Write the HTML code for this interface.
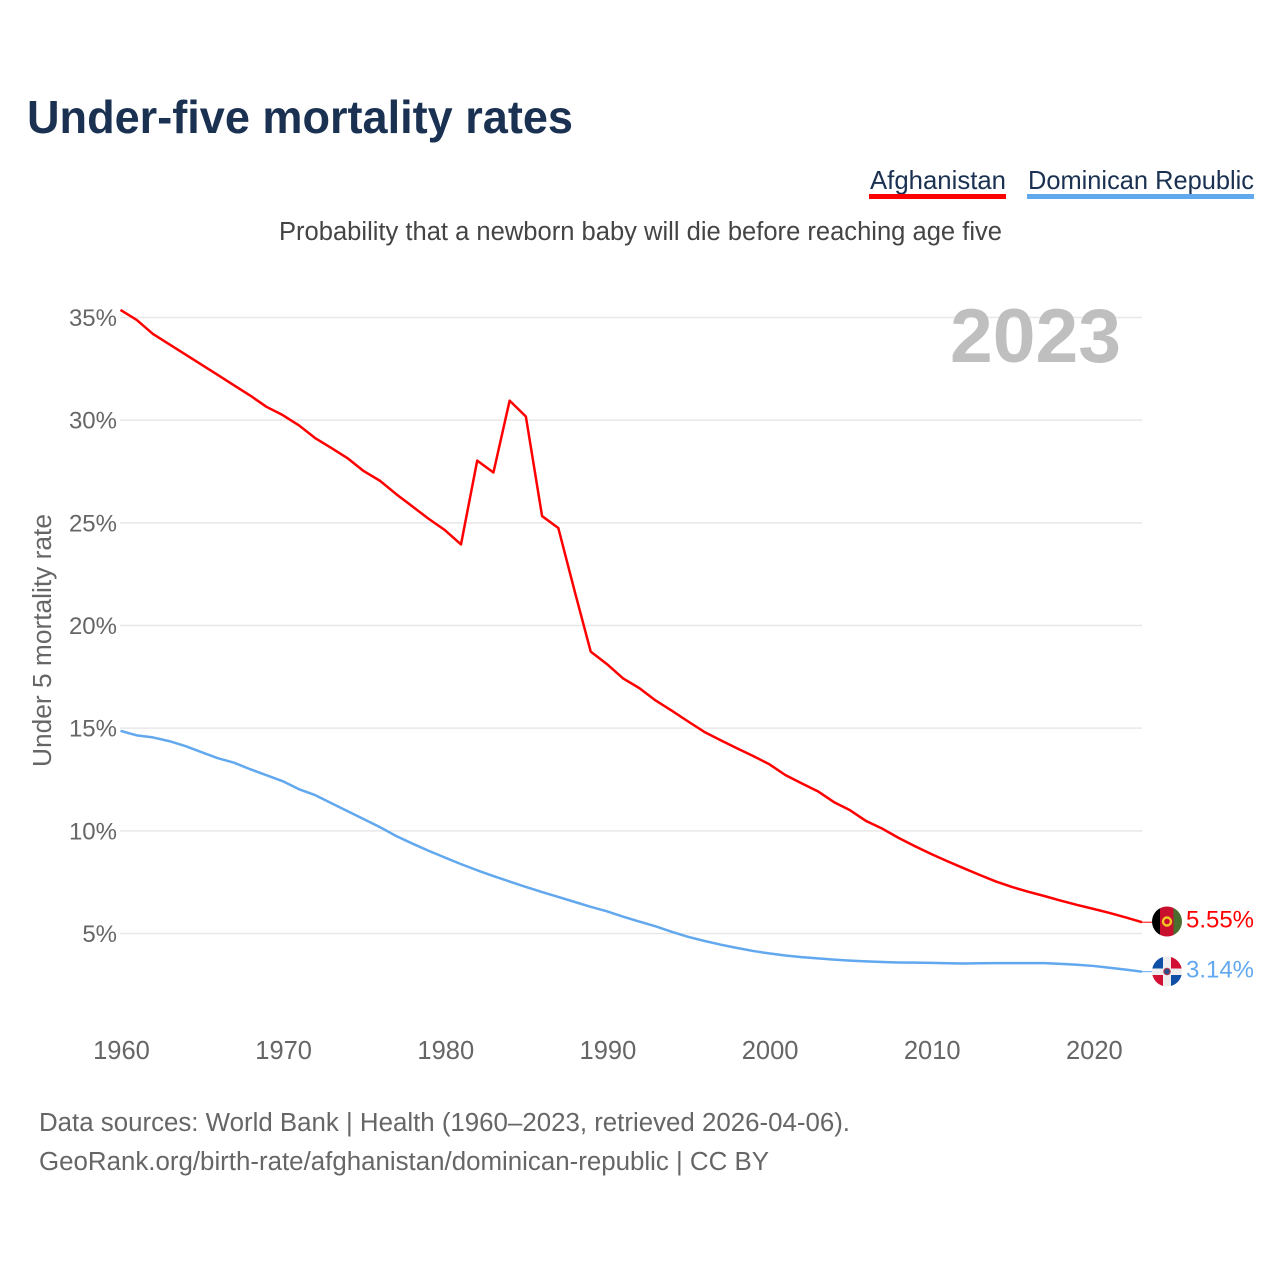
<!DOCTYPE html>
<html lang="en">
<head>
<meta charset="utf-8">
<title>Under-five mortality rates</title>
<style>
  html, body { margin: 0; padding: 0; background: #fff; width: 1280px; height: 1280px; overflow: hidden; }
  svg { display: block; font-family: "Liberation Sans", sans-serif; }
</style>
</head>
<body>
<svg id="chart" xmlns="http://www.w3.org/2000/svg" width="1280" height="1280" viewBox="0 0 1280 1280">
  <rect x="0" y="0" width="1280" height="1280" fill="#ffffff"/>
  <text x="27" y="133" font-size="46" font-weight="700" fill="#1a3152" textLength="546" lengthAdjust="spacingAndGlyphs">Under-five mortality rates</text>
  <g>
    <g>
      <text x="870" y="189" font-size="26" fill="#1a3152" textLength="136" lengthAdjust="spacingAndGlyphs">Afghanistan</text>
      <rect x="869" y="194" width="137" height="5" fill="#ff0000"/>
    </g>
    <g>
      <text x="1028" y="189" font-size="26" fill="#1a3152" textLength="226" lengthAdjust="spacingAndGlyphs">Dominican Republic</text>
      <rect x="1027" y="194" width="227" height="5" fill="#62a8ee"/>
    </g>
  </g>
  <text x="279" y="240" font-size="25.5" fill="#444444" textLength="723" lengthAdjust="spacingAndGlyphs">Probability that a newborn baby will die before reaching age five</text>
  <g id="grid"></g>
  <text x="950" y="362" font-size="76" font-weight="700" fill="#bfbfbf" textLength="171" lengthAdjust="spacingAndGlyphs">2023</text>
  <g id="yticks"></g>
  <g id="xticks"></g>
  <text transform="translate(51,767) rotate(-90)" font-size="25.5" fill="#666666" textLength="253" lengthAdjust="spacingAndGlyphs">Under 5 mortality rate</text>
  <g id="series"></g>
  <defs>
    <clipPath id="clip-af"><circle cx="1167" cy="921.5" r="15"/></clipPath>
    <clipPath id="clip-do"><circle cx="1167" cy="971.5" r="15"/></clipPath>
  </defs>
  <g clip-path="url(#clip-af)">
    <rect x="1152" y="906" width="8" height="31" fill="#000000"/>
    <rect x="1160" y="906" width="13.5" height="31" fill="#c8102e"/>
    <rect x="1173.5" y="906" width="9" height="31" fill="#4a6e2e"/>
    <circle cx="1167" cy="921.5" r="4" fill="none" stroke="#f3c623" stroke-width="2.4"/>
  </g>
  <g clip-path="url(#clip-do)">
    <rect x="1152" y="956" width="30" height="31" fill="#eeeeee"/>
    <rect x="1152" y="956" width="11" height="12.5" fill="#0f4fa8"/>
    <rect x="1171" y="956" width="11" height="12.5" fill="#d21034"/>
    <rect x="1152" y="975" width="11" height="12" fill="#d21034"/>
    <rect x="1171" y="975" width="11" height="12" fill="#0f4fa8"/>
    <circle cx="1167" cy="971.5" r="3.2" fill="#28508f" stroke="#b23a48" stroke-width="1.2"/>
  </g>
  <g id="endlabels"></g>
  <text x="39" y="1131" font-size="25.5" fill="#666666" textLength="811" lengthAdjust="spacingAndGlyphs">Data sources: World Bank | Health (1960–2023, retrieved 2026-04-06).</text>
  <text x="39" y="1170" font-size="25.5" fill="#666666" textLength="730" lengthAdjust="spacingAndGlyphs">GeoRank.org/birth-rate/afghanistan/dominican-republic | CC BY</text>
</svg>
<script>
const years = [1960,1961,1962,1963,1964,1965,1966,1967,1968,1969,1970,1971,1972,1973,1974,1975,1976,1977,1978,1979,1980,1981,1982,1983,1984,1985,1986,1987,1988,1989,1990,1991,1992,1993,1994,1995,1996,1997,1998,1999,2000,2001,2002,2003,2004,2005,2006,2007,2008,2009,2010,2011,2012,2013,2014,2015,2016,2017,2018,2019,2020,2021,2022,2023];
const afghanistan = [35.37,34.88,34.2,33.7,33.2,32.7,32.2,31.7,31.2,30.65,30.25,29.75,29.13,28.65,28.15,27.52,27.05,26.4,25.8,25.2,24.65,23.95,28.03,27.45,30.95,30.18,25.33,24.75,21.7,18.73,18.12,17.42,16.95,16.35,15.85,15.33,14.82,14.42,14.03,13.65,13.25,12.72,12.32,11.93,11.4,11.0,10.47,10.1,9.65,9.25,8.87,8.52,8.18,7.85,7.53,7.26,7.03,6.82,6.6,6.39,6.2,6.0,5.78,5.55];
const dominicanRepublic = [14.87,14.65,14.55,14.37,14.13,13.83,13.54,13.32,13.0,12.71,12.42,12.03,11.74,11.35,10.96,10.57,10.18,9.75,9.38,9.03,8.7,8.38,8.08,7.8,7.53,7.27,7.02,6.78,6.54,6.3,6.08,5.82,5.58,5.35,5.08,4.84,4.64,4.46,4.3,4.15,4.03,3.93,3.85,3.79,3.73,3.68,3.64,3.61,3.59,3.58,3.57,3.55,3.54,3.55,3.56,3.56,3.56,3.56,3.52,3.48,3.42,3.33,3.24,3.14];
const yTickValues = [35,30,25,20,15,10,5];
const xTickValues = [1960,1970,1980,1990,2000,2010,2020];

const NS = 'http://www.w3.org/2000/svg';
function xScale(year) { return 120.5 + (year - 1960) * (1142 - 120.5) / 63; }
function yScale(pct) { return 317.5 + (35 - pct) * (933.5 - 317.5) / 30; }
function make(tag, attrs, text) {
  const el = document.createElementNS(NS, tag);
  for (const k in attrs) el.setAttribute(k, attrs[k]);
  if (text !== undefined) el.textContent = text;
  return el;
}

const grid = document.getElementById('grid');
const yticks = document.getElementById('yticks');
yTickValues.forEach(function (v) {
  const line = make('line', { x1: 120, x2: 1142, y1: yScale(v), y2: yScale(v), stroke: '#e8e8e8', 'stroke-width': 1.5 });
  
  
  grid.appendChild(line);
  const label = make('text', { x: 117, y: yScale(v) + 8.5, 'text-anchor': 'end', 'font-size': 24, fill: '#666666' }, v + '%');
  
  
  yticks.appendChild(label);
});

const xticks = document.getElementById('xticks');
xTickValues.forEach(function (y) {
  const label = make('text', { x: xScale(y) + 1, y: 1059, 'text-anchor': 'middle', 'font-size': 25.5, fill: '#666666' }, String(y));
  
  
  xticks.appendChild(label);
});

function pathFor(values) {
  return values.map(function (v, i) {
    return (i ? 'L' : 'M') + xScale(years[i]).toFixed(2) + ' ' + yScale(v).toFixed(2);
  }).join(' ');
}
const series = document.getElementById('series');
const endlabels = document.getElementById('endlabels');

const afLine = make('path', { d: pathFor(afghanistan), fill: 'none', stroke: '#ff0000', 'stroke-width': 2.5, 'stroke-linejoin': 'round' });


series.appendChild(afLine);

const doLine = make('path', { d: pathFor(dominicanRepublic), fill: 'none', stroke: '#62a8ee', 'stroke-width': 2.5, 'stroke-linejoin': 'round' });


series.appendChild(doLine);

const afEnd = afghanistan[afghanistan.length - 1];
const doEnd = dominicanRepublic[dominicanRepublic.length - 1];

const afLead = make('line', { x1: 1142, x2: 1153, y1: yScale(afEnd), y2: yScale(afEnd), stroke: '#ff0000', 'stroke-width': 1 });


series.appendChild(afLead);

const doLead = make('line', { x1: 1142, x2: 1153, y1: yScale(doEnd), y2: yScale(doEnd), stroke: '#62a8ee', 'stroke-width': 1 });


series.appendChild(doLead);

const afLabel = make('text', { x: 1254, y: yScale(afEnd) + 5.5, 'text-anchor': 'end', 'font-size': 24.5, fill: '#ff0000', textLength: 68, lengthAdjust: 'spacingAndGlyphs' }, afEnd.toFixed(2) + '%');


endlabels.appendChild(afLabel);

const doLabel = make('text', { x: 1254, y: yScale(doEnd) + 6, 'text-anchor': 'end', 'font-size': 24.5, fill: '#62a8ee', textLength: 68, lengthAdjust: 'spacingAndGlyphs' }, doEnd.toFixed(2) + '%');


endlabels.appendChild(doLabel);
</script>
</body>
</html>
